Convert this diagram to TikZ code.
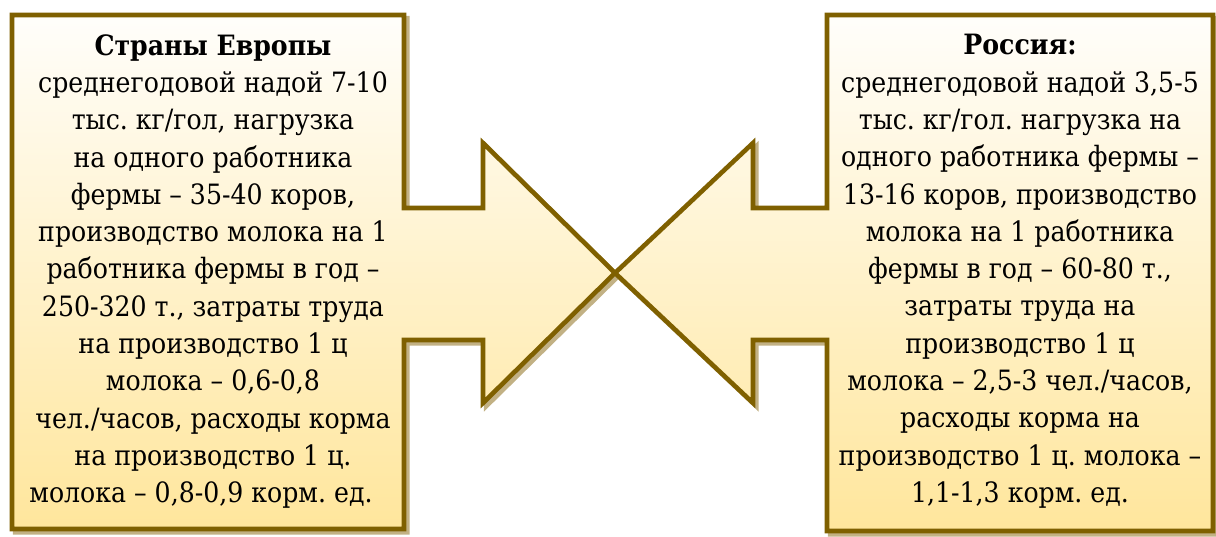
\documentclass[tikz,border=0pt]{standalone}
\usepackage{fontspec}
\setmainfont{DejaVu Serif}[FakeStretch=0.9]
\usepackage{tikz}
\usetikzlibrary{
  positioning, calc, shadows
}
\frenchspacing
\definecolor{cborder}{HTML}{7F6000}
\definecolor{ctop}{HTML}{FFFEFB}
\definecolor{cbottom}{HTML}{FFE69C}
\definecolor{cshade}{HTML}{C2B184}
\tikzset{
  callout/.style={
    draw=cborder, line width=2.3pt, line join=miter,
    top color=ctop, bottom color=cbottom,
    drop shadow={shadow xshift=1.6pt, shadow yshift=-1.6pt,
      fill=cshade, draw=cshade, line width=2.3pt, opacity=1}
  },
  txt/.style={
    align=center, inner sep=0pt, text=black,
    font=\fontsize{14pt}{18.65pt}\selectfont
  }
}

\begin{document}
\begin{tikzpicture}[x=0.5pt, y=-0.5pt]
  \useasboundingbox (0,0) rectangle (1216,536);

  % left block, arrow to the right
  \path[callout] (12,15) -- (404,15) -- (404,208) -- (483,208) -- (483,143)
    -- (615,273) -- (483,403) -- (483,340) -- (404,340) -- (404,529)
    -- (12,529) -- cycle;
  % right block, arrow to the left
  \path[callout] (827,15) -- (1213,15) -- (1213,531) -- (827,531) -- (827,340)
    -- (753,340) -- (753,403) -- (615,273) -- (753,143) -- (753,208)
    -- (827,208) -- cycle;

  \node[txt, anchor=north] (europe) at (213,34) {%
    \textbf{Страны Европы}\\
    среднегодовой надой 7-10\\
    тыс. кг/гол, нагрузка\\
    на одного работника\\
    фермы – 35-40 коров,\\
    производство молока на 1\\
    работника фермы в год –\\
    250-320 т., затраты труда\\
    на производство 1 ц\\
    молока – 0,6-0,8\\
    чел./часов, расходы корма\\
    на производство 1 ц.\\
    молока – 0,8-0,9 корм. ед.\hspace*{12pt}};
  \node[txt, anchor=north] (russia) at (1020,34) {%
    \textbf{Россия:}\\
    среднегодовой надой 3,5-5\\
    тыс. кг/гол. нагрузка на\\
    одного работника фермы –\\
    13-16 коров, производство\\
    молока на 1 работника\\
    фермы в год – 60-80 т.,\\
    затраты труда на\\
    производство 1 ц\\
    молока – 2,5-3 чел./часов,\\
    расходы корма на\\
    производство 1 ц. молока –\\
    1,1-1,3 корм. ед.};
\end{tikzpicture}
\end{document}
